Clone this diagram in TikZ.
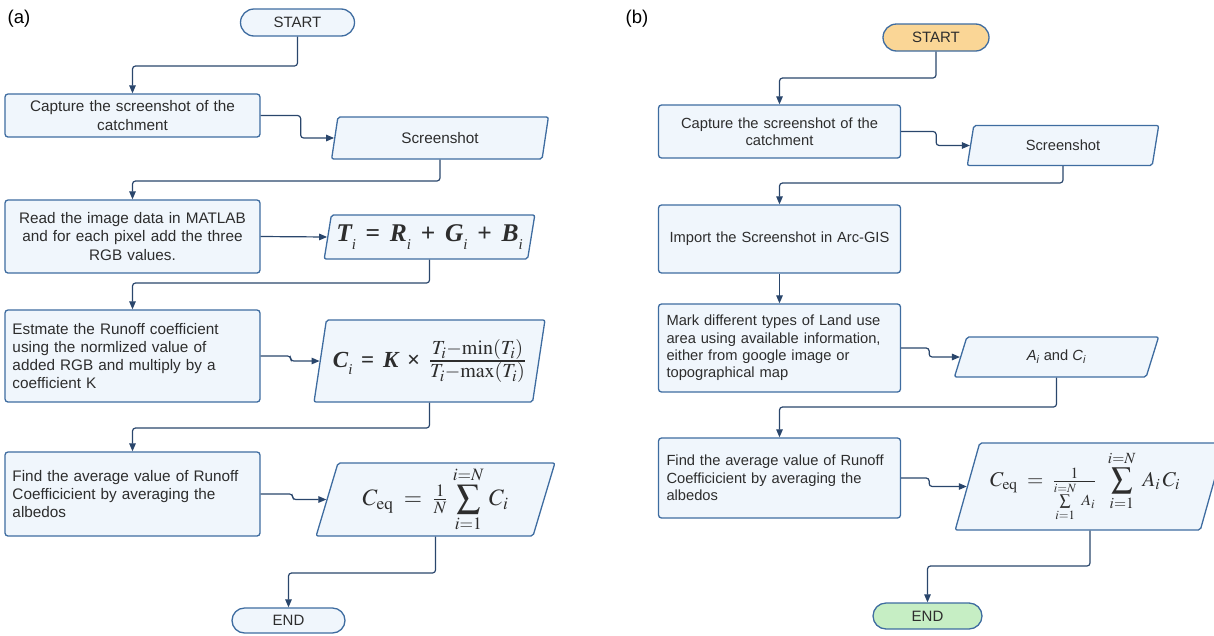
\documentclass[tikz,border=0pt]{standalone}
\usepackage{amsmath}
\usepackage{mathptmx}
\usepackage[no-math]{fontspec}
\setmainfont{Liberation Sans}
\newfontfamily\tms{Liberation Serif}
\usetikzlibrary{shapes.geometric,shapes.misc,arrows.meta}
\definecolor{bordc}{RGB}{62,108,160}
\definecolor{boxfill}{RGB}{240,246,252}
\definecolor{connc}{RGB}{42,70,108}
\definecolor{txt}{RGB}{45,45,45}
\definecolor{startfill}{RGB}{250,214,150}
\definecolor{endfill}{RGB}{198,238,196}
\newcommand\subi{\raisebox{-0.3em}{\fontsize{15}{15}\selectfont\mdseries i}}
\newcommand\gap{\hspace{0.38em}}
\tikzset{
  box/.style={draw=bordc, fill=boxfill, line width=1.3pt, rounded corners=3pt, text=txt, inner sep=0pt},
  fa/.style={font=\fontsize{15.3}{18.3}\selectfont},
  fb/.style={font=\fontsize{14.7}{17.3}\selectfont},
  para/.style={trapezium, trapezium left angle=#1, trapezium right angle=180-#1, trapezium stretches=true,
    draw=bordc, fill=boxfill, line width=1.3pt, rounded corners=2pt, inner sep=0pt, text=txt},
  para/.default=75,
  term/.style={rounded rectangle, draw=bordc, line width=1.3pt, fill=boxfill, inner sep=0pt, text=txt,
    font=\fontsize{15}{18}\selectfont},
  conn/.style={draw=connc, line width=1.2pt, rounded corners=3pt, -{Triangle[length=8pt,width=6.5pt]}},
  lbl/.style={font=\fontsize{18.5}{20}\selectfont, text=black, inner sep=0pt},
}
\begin{document}
\begin{tikzpicture}[x=1pt,y=-1pt]
\useasboundingbox (0,0) rectangle (1214,635);
% ---------- panel (a)
\node[lbl] (la) at (19,19) {(a)};
\node[term, minimum width=114, minimum height=27] (sa) at (297.5,22.5) {START};
\node[box, fa, minimum width=255, minimum height=43, text width=240, align=center] (a1) at (132.5,115.5)
  {Capture the screenshot of the\\catchment};
\node[para=78, fa, minimum width=218, minimum height=42] (ass) at (440,138) {Screenshot};
\node[box, fa, minimum width=255, minimum height=73, text width=240, align=center] (a2) at (132.5,236.5)
  {Read the image data in MATLAB\\and for each pixel add the three\\RGB values.};
\node[para=74.5, minimum width=211, minimum height=44] (ati) at (429.5,237)
  {\tms\bfseries\fontsize{25.5}{27}\selectfont\itshape T\subi\gap{\upshape=}\gap R\subi\gap{\upshape+}\gap G\subi\gap{\upshape+}\gap B\subi};
\node[box, fa, minimum width=255, minimum height=92, text width=240, align=left] (a3) at (132.5,356)
  {Estmate the Runoff coefficient\\using the normlized value of\\added RGB and multiply by a\\coefficient K};
\node[para=75, minimum width=231, minimum height=82] (aci) at (429.5,361)
  {{\tms\bfseries\fontsize{23}{25}\selectfont\itshape C\subi\gap{\upshape=}\gap K\gap{\upshape ×}\gap}{\fontsize{27}{29}\selectfont$\tfrac{T_i-\min(T_i)}{T_i-\max(T_i)}$}};
\node[box, fa, minimum width=255, minimum height=84, text width=240, align=left] (a4) at (132.5,494)
  {Find the average value of Runoff\\Coefficicient by averaging the\\albedos};
\node[para=76, minimum width=239, minimum height=73, font=\fontsize{23.5}{25}\selectfont] (ace) at (435.5,499.5)
  {$\displaystyle C_{\mathrm{eq}}\;=\;\tfrac{1}{N}\,\sum_{i=1}^{i=N}\,C_i$};
\node[term, minimum width=113, minimum height=25] (ea) at (288.5,620.5) {END};
\draw[conn] (sa.south) -- (sa.south |- 0,66) -| (a1.north);
\draw[conn] (a1.east) -- ++(40,0) |- (ass.west);
\draw[conn] (ass.south) -- (ass.south |- 0,181) -| (a2.north);
\draw[conn] (a2.east) -- (ati.west);
\draw[conn] (ati.south) -- (ati.south |- 0,283) -| (a3.north);
\draw[conn] (a3.east) -- ++(30,0) |- (aci.west);
\draw[conn] (aci.south) -- (aci.south |- 0,428) -| (a4.north);
\draw[conn] (a4.east) -- ++(32,0) |- (ace.west);
\draw[conn] (ace.south) -- (ace.south |- 0,573) -| (ea.north);
% ---------- panel (b)
\node[lbl] (lb) at (637,19) {(b)};
\node[term, fill=startfill, minimum width=106, minimum height=27] (sb) at (936,37.5) {START};
\node[box, fb, minimum width=242, minimum height=53, text width=226, align=center] (b1) at (779.5,131.5)
  {Capture the screenshot of the\\catchment};
\node[para=76, fb, minimum width=192, minimum height=40] (bss) at (1063,145.5) {Screenshot};
\node[box, fb, minimum width=242, minimum height=68, text width=226, align=center] (b2) at (779.5,239)
  {Import the Screenshot in Arc-GIS};
\node[box, fb, minimum width=242, minimum height=88, text width=226, align=left] (b3) at (779.5,348)
  {Mark different types of Land use\\area using available information,\\either from google image or\\topographical map};
\node[para=73, fb, minimum width=205, minimum height=40] (bac) at (1056.5,357)
  {\textit{A}\textsubscript{\textit{i}} and \textit{C}\textsubscript{\textit{i}}};
\node[box, fb, minimum width=242, minimum height=80, text width=226, align=left] (b4) at (779.5,478)
  {Find the average value of Runoff\\Coefficicient by averaging the\\albedos};
\node[para=74, minimum width=270, minimum height=87, font=\fontsize{21}{23}\selectfont] (bce) at (1090,486.5)
  {\hspace*{-10pt}$\displaystyle C_{\mathrm{eq}}\;=\;{\textstyle\frac{1}{\sum\limits_{i=1}^{i=N}\;A_i}}\;\;\sum_{i=1}^{i=N}\;A_i\,C_i$};
\node[term, fill=endfill, minimum width=109, minimum height=26] (be) at (927.5,616) {END};
\draw[conn] (sb.south) -- (sb.south |- 0,78) -| (b1.north);
\draw[conn] (b1.east) -- ++(35,0) |- (bss.west);
\draw[conn] (bss.south) -- (bss.south |- 0,183) -| (b2.north);
\draw[conn] (b2.south) -- (b3.north);
\draw[conn] (b3.east) -- ++(28,0) |- (bac.west);
\draw[conn] (bac.south) -- (bac.south |- 0,407) -| (b4.north);
\draw[conn] (b4.east) -- ++(28,0) |- (bce.west);
\draw[conn] (bce.south) -- (bce.south |- 0,566) -| (be.north);
\end{tikzpicture}
\end{document}
